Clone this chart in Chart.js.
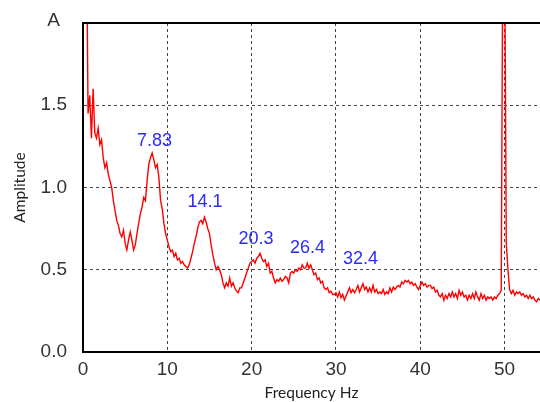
<!DOCTYPE html>
<html>
<head>
<meta charset="utf-8">
<title>Amplitude spectrum</title>
<script src="https://cdn.jsdelivr.net/npm/chart.js@4/dist/chart.umd.min.js"></script>
<style>
    html, body { margin: 0; padding: 0; background: #fff; }
    canvas { display: block; }
</style>
</head>
<body>
<canvas id="spectrumChart" width="540" height="402"></canvas>
<script>
// Sampling grid of the spectrum (Hz)
const freqStart = 0.4;
const freqStep = 0.2;

// Amplitude, one value per 0.2 Hz from 0.4 Hz to 54.2 Hz
const amplitudes = [
    2.6, 1.45, 1.56, 1.3, 1.6, 1.33, 1.3, 1.36, 1.26, 1.29,
    1.18, 1.12, 1.15, 1.08, 1.04, 1.0, 0.92, 0.86, 0.8, 0.77,
    0.72, 0.7, 0.74, 0.66, 0.62, 0.68, 0.73, 0.68, 0.62, 0.65,
    0.72, 0.78, 0.84, 0.88, 0.94, 0.92, 1.04, 1.14, 1.18, 1.21,
    1.17, 1.12, 1.14, 1.06, 0.92, 0.87, 0.78, 0.72, 0.68, 0.64,
    0.61, 0.62, 0.58, 0.6, 0.56, 0.57, 0.54, 0.55, 0.53, 0.52,
    0.51, 0.53, 0.57, 0.61, 0.66, 0.7, 0.75, 0.79, 0.8, 0.78,
    0.82, 0.79, 0.75, 0.72, 0.65, 0.59, 0.54, 0.5, 0.52, 0.5,
    0.47, 0.42, 0.39, 0.42, 0.4, 0.45, 0.4, 0.42, 0.39, 0.37,
    0.36, 0.39, 0.39, 0.42, 0.45, 0.48, 0.51, 0.54, 0.55, 0.56,
    0.54, 0.57, 0.58, 0.6, 0.57, 0.55, 0.56, 0.52, 0.54, 0.48,
    0.49, 0.45, 0.42, 0.44, 0.43, 0.45, 0.43, 0.44, 0.46, 0.45,
    0.42, 0.48, 0.49, 0.48, 0.5, 0.49, 0.51, 0.5, 0.53, 0.51,
    0.51, 0.54, 0.51, 0.53, 0.5, 0.47, 0.48, 0.44, 0.45, 0.42,
    0.43, 0.39, 0.38, 0.39, 0.36, 0.37, 0.35, 0.35, 0.36, 0.335,
    0.365, 0.33, 0.35, 0.315, 0.34, 0.365, 0.39, 0.36, 0.38, 0.36,
    0.38, 0.405, 0.365, 0.39, 0.415, 0.38, 0.395, 0.365, 0.39, 0.365,
    0.405, 0.365, 0.38, 0.355, 0.365, 0.355, 0.38, 0.35, 0.365, 0.355,
    0.39, 0.365, 0.395, 0.38, 0.395, 0.405, 0.395, 0.425, 0.415, 0.435,
    0.425, 0.435, 0.415, 0.425, 0.405, 0.415, 0.395, 0.38, 0.405, 0.425,
    0.405, 0.415, 0.395, 0.405, 0.405, 0.385, 0.395, 0.365, 0.375, 0.345,
    0.335, 0.355, 0.315, 0.345, 0.325, 0.355, 0.335, 0.365, 0.335, 0.355,
    0.325, 0.375, 0.345, 0.365, 0.335, 0.345, 0.315, 0.345, 0.325, 0.355,
    0.325, 0.365, 0.335, 0.315, 0.355, 0.325, 0.345, 0.315, 0.335, 0.325,
    0.335, 0.315, 0.335, 0.325, 0.345, 0.355, 0.375, 2.6, 2.6, 0.66,
    0.5, 0.38, 0.355, 0.375, 0.345, 0.365, 0.355, 0.365, 0.345, 0.355,
    0.335, 0.345, 0.325, 0.345, 0.325, 0.335, 0.315, 0.305, 0.325, 0.315
];

// Axis ticks
const xTicks = [0, 10, 20, 30, 40, 50];
const yTicks = [0, 0.5, 1.0, 1.5, 2.0];

// Peak labels (text, and where they sit in data units)
const peakLabels = ['7.83', '14.1', '20.3', '26.4', '32.4'];
const peakLabelX = [8.48, 14.47, 20.52, 26.63, 32.92];
const peakLabelY = [1.285, 0.91, 0.685, 0.63, 0.567];

document.addEventListener('DOMContentLoaded', () => {
    const canvas = document.getElementById('spectrumChart');
    const tickFont = { family: '"Liberation Sans", Arial, sans-serif', size: 19 };
    const titleFont = { family: 'Lato, "Open Sans", sans-serif', size: 15.5 };

    // Build the point list from the sampling grid
    const points = amplitudes.map((a, i) => ({ x: freqStart + i * freqStep, y: a }));

    // Plugin: top border, "A" unit label and the blue peak labels
    const extrasPlugin = {
        id: 'extras',
        afterDatasetsDraw(chart) {
            const { ctx, chartArea, scales: { x, y } } = chart;
            ctx.save();

            // top frame line
            ctx.strokeStyle = '#000';
            ctx.lineWidth = 2;
            ctx.beginPath();
            ctx.moveTo(chartArea.left - 1, chartArea.top);
            ctx.lineTo(chartArea.right, chartArea.top);
            ctx.stroke();

            // unit label at the top of the y axis
            ctx.font = '19px "Liberation Sans", Arial, sans-serif';
            ctx.fillStyle = '#333';
            ctx.textAlign = 'right';
            ctx.textBaseline = 'middle';
            ctx.fillText('A', chartArea.left - 23, y.getPixelForValue(2) - 2);

            // peak labels
            ctx.font = '18px "Liberation Sans", Arial, sans-serif';
            ctx.fillStyle = '#2b2bff';
            ctx.textAlign = 'center';
            peakLabels.forEach((label, i) => {
                ctx.fillText(label, x.getPixelForValue(peakLabelX[i]), y.getPixelForValue(peakLabelY[i]));
            });
            ctx.restore();
        }
    };

    new Chart(canvas.getContext('2d'), {
        type: 'line',
        data: {
            datasets: [{
                data: points,
                borderColor: '#ff0000',
                borderWidth: 1.4,
                pointRadius: 0,
                tension: 0,
                fill: false
            }]
        },
        options: {
            responsive: false,
            animation: false,
            layout: { padding: { top: 23, right: 0, bottom: 0, left: 0 } },
            plugins: {
                legend: { display: false },
                tooltip: { enabled: false }
            },
            scales: {
                x: {
                    type: 'linear',
                    min: 0,
                    max: 54.2,
                    afterBuildTicks: (scale) => { scale.ticks = xTicks.map(v => ({ value: v })); },
                    afterFit: (scale) => { scale.height = 50; },
                    ticks: { font: tickFont, color: '#333', padding: 6, maxRotation: 0, autoSkip: false },
                    grid: {
                        color: (c) => (c.tick && c.tick.value === 0 ? 'rgba(0,0,0,0)' : '#444'),
                        lineWidth: 1,
                        drawTicks: false
                    },
                    border: { display: true, color: '#000', width: 2, dash: [3, 3] },
                    title: {
                        display: true,
                        text: 'Frequency Hz',
                        font: titleFont,
                        color: '#222',
                        padding: { top: 0, bottom: 0 }
                    }
                },
                y: {
                    min: 0,
                    max: 2,
                    afterBuildTicks: (scale) => { scale.ticks = yTicks.map(v => ({ value: v })); },
                    afterFit: (scale) => {
                        scale.width = 83;
                        // keep the label padding from pushing the plot area down
                        scale.paddingTop = 0;
                        scale.paddingBottom = 0;
                    },
                    ticks: {
                        font: tickFont,
                        color: '#333',
                        padding: 16,
                        callback: (v) => (v === 2 ? '' : v.toFixed(1))
                    },
                    grid: {
                        color: (c) => (c.tick && (c.tick.value === 0 || c.tick.value === 2) ? 'rgba(0,0,0,0)' : '#444'),
                        lineWidth: 1,
                        drawTicks: false
                    },
                    border: { display: true, color: '#000', width: 2, dash: [3, 3] },
                    title: {
                        display: true,
                        text: 'Amplitude',
                        font: titleFont,
                        color: '#222',
                        padding: { top: 11, bottom: 0 }
                    }
                }
            }
        },
        plugins: [extrasPlugin]
    });
});
</script>
</body>
</html>
